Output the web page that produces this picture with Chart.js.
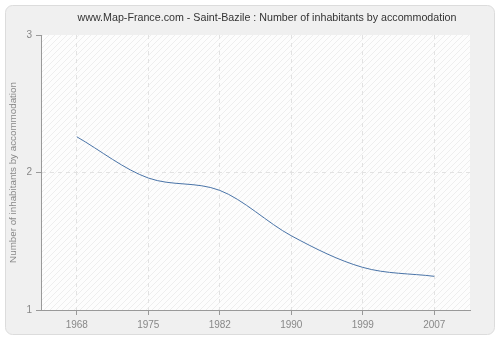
<!DOCTYPE html>
<html>
<head>
<meta charset="utf-8">
<script src="https://cdn.jsdelivr.net/npm/chart.js@4/dist/chart.umd.min.js"></script>
<style>
  html, body { margin: 0; padding: 0; background: #fff; }
  #wrap { width: 500px; height: 340px; }
</style>
</head>
<body>
<div id="wrap"><canvas id="chart" width="500" height="340"></canvas></div>
<script>
// data
const years = ['1968', '1975', '1982', '1990', '1999', '2007'];
const inhabitants = [2.26, 1.96, 1.87, 1.54, 1.31, 1.245];
const yTicks = [1, 2, 3];

const titleText = 'www.Map-France.com - Saint-Bazile : Number of inhabitants by accommodation';
const fontFamily = '"Liberation Sans", Arial, sans-serif';

// hatch pattern for the plot area
function makeHatch() {
    const c = document.createElement('canvas');
    c.width = 6; c.height = 6;
    const g = c.getContext('2d');
    g.fillStyle = '#fdfdfd';
    g.fillRect(0, 0, 6, 6);
    g.strokeStyle = 'rgba(0,0,0,0.06)';
    g.lineWidth = 1;
    g.beginPath();
    g.moveTo(0, 6); g.lineTo(6, 0);
    g.moveTo(-1, 1); g.lineTo(1, -1);
    g.moveTo(5, 7); g.lineTo(7, 5);
    g.stroke();
    return g.createPattern(c, 'repeat');
}

const panelPlugin = {
    id: 'panel',
    beforeDraw(chart) {
        const ctx = chart.ctx;
        const a = chart.chartArea;
        ctx.save();
        // outer rounded panel
        ctx.fillStyle = '#f0f0f0';
        ctx.strokeStyle = '#dcdcdc';
        ctx.lineWidth = 1;
        ctx.beginPath();
        ctx.roundRect(5.5, 5.5, 489, 329, 7);
        ctx.fill();
        ctx.stroke();
        // plot area
        ctx.fillStyle = makeHatch();
        ctx.fillRect(a.left, a.top, a.right - a.left, a.bottom - a.top);
        // title
        ctx.fillStyle = '#333';
        ctx.font = '10.7px ' + fontFamily;
        ctx.textAlign = 'center';
        ctx.textBaseline = 'middle';
        ctx.fillText(titleText, 267, 18);
        ctx.restore();
    }
};

new Chart(document.getElementById('chart'), {
    type: 'line',
    data: {
        labels: years,
        datasets: [{
            data: inhabitants,
            borderColor: '#4a74a8',
            borderWidth: 1,
            pointRadius: 0,
            fill: false,
            cubicInterpolationMode: 'monotone'
        }]
    },
    options: {
        responsive: false,
        animation: false,
        layout: { padding: { left: 0, right: 30, top: 35, bottom: 0 } },
        plugins: { legend: { display: false }, tooltip: { enabled: false } },
        scales: {
            x: {
                offset: true,
                grid: {
                    offset: false,
                    color: '#e2e2e2',
                    tickLength: 5,
                    tickColor: '#999',
                    tickBorderDash: []
                },
                border: { display: true, color: '#999', width: 1, dash: [4, 4] },
                ticks: { color: '#888', font: { family: fontFamily, size: 10 }, padding: 4 },
                afterFit: (s) => { s.height = 30; }
            },
            y: {
                min: 1, max: 3,
                afterBuildTicks: (s) => { s.ticks = yTicks.map(v => ({ value: v })); },
                grid: {
                    color: (c) => (c.tick && c.tick.value === 2) ? '#e2e2e2' : 'rgba(0,0,0,0)',
                    tickLength: 5,
                    tickColor: '#999',
                    tickBorderDash: []
                },
                border: { display: true, color: '#999', width: 1, dash: [4, 4] },
                ticks: { color: '#888', font: { family: fontFamily, size: 10 }, padding: 4 },
                title: {
                    display: true,
                    text: 'Number of inhabitants by accommodation',
                    color: '#888',
                    font: { family: fontFamily, size: 9.8 },
                    padding: { top: 7, bottom: 0 }
                },
                afterFit: (s) => { s.width = 41; }
            }
        }
    },
    plugins: [panelPlugin]
});
</script>
</body>
</html>
